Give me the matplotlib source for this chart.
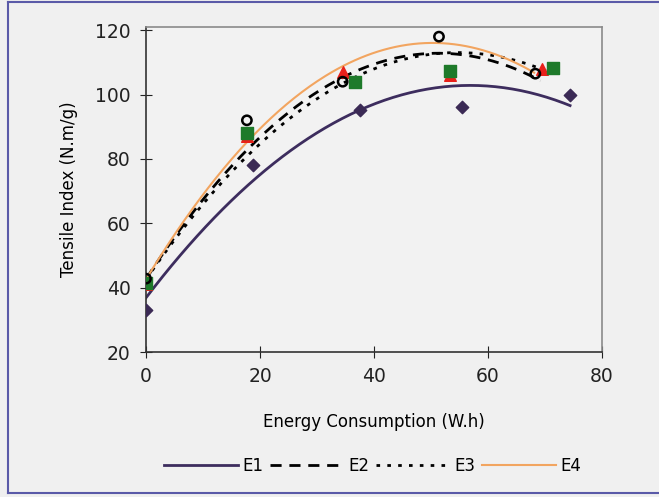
import numpy as np
import matplotlib
matplotlib.use("Agg")
import matplotlib.pyplot as plt
from matplotlib.lines import Line2D

x_e1 = [0, 18.7, 37.6, 55.5, 74.4]
y_e1 = [33.1, 78.1, 95.3, 96.2, 99.8]
x_e2 = [0, 17.7, 34.5, 51.4, 68.3]
y_e2 = [42.8, 92.0, 104.0, 118.0, 106.5]
x_e3 = [0, 17.7, 36.7, 53.4, 71.4]
y_e3 = [41.5, 88.0, 104.0, 107.2, 108.2]
x_e4 = [0, 17.7, 34.5, 53.4, 69.5]
y_e4 = [41.0, 87.0, 107.0, 106.0, 108.0]

# Trend-curve samples
tx_e1 = [0, 24.2, 30.3, 37.6, 51.2, 59.4, 68.7, 74.4]
ty_e1 = [36.9, 80.9, 88.4, 95.3, 102.5, 102.8, 99.4, 96.9]
tx_e2 = [0, 13.8, 36.8, 44.3, 51.8, 61.2, 65.7, 69.2]
ty_e2 = [43.0, 74.7, 107.5, 111.9, 113.1, 109.7, 106.6, 105.0]
tx_e3 = [0, 27.4, 31.5, 43.0, 49.5, 71.3]
ty_e3 = [42.5, 95.6, 100.3, 110.3, 111.9, 106.6]
tx_e4 = [0, 9.1, 24.2, 34.7, 46.5, 53.0, 62.9, 68.1]
ty_e4 = [43.5, 65.3, 96.5, 109.1, 115.9, 116.5, 110.3, 107.2]

labels = ["E1", "E2", "E3", "E4"]
bg = "#f0f0f0"

W, H = 659, 497
fig = plt.figure(figsize=(W/100, H/100), dpi=100, facecolor=bg)
ax = fig.add_axes([146/W, 1-352/H, (602-146)/W, (352-27)/H])
ax.set_facecolor("#f2f2f2")

def trend(xs, ys):
    c = np.polyfit(xs, ys, 2)
    xx = np.linspace(min(xs), max(xs), 200)
    return xx, np.polyval(c, xx)

xx, yy = trend(tx_e1, ty_e1)
l1, = ax.plot(xx, yy, color="#3d2d5e", lw=2, label=labels[0])
xx, yy = trend(tx_e2, ty_e2)
l2, = ax.plot(xx, yy, color="black", lw=2, ls=(0, (4, 2.8)), label=labels[1])
xx, yy = trend(tx_e3, ty_e3)
l3, = ax.plot(xx, yy, color="black", lw=2, ls=(0, (1.3, 2.6)), label=labels[2])
xx, yy = trend(tx_e4, ty_e4)
l4, = ax.plot(xx, yy, color="#f2a560", lw=1.5, label=labels[3])

ax.scatter(x_e1, y_e1, marker="D", s=40, color="#3b2a55", zorder=5)
ax.scatter(x_e4, y_e4, marker="^", s=70, color="#e8201a", zorder=5)
ax.scatter(x_e3, y_e3, marker="s", s=70, color="#1e7a2a", zorder=6)
ax.scatter(x_e2, y_e2, marker="o", s=45, facecolors="none", edgecolors="black",
           linewidths=1.8, zorder=7)

ax.set_xlim(0, 80)
ax.set_ylim(20, 121)
ax.set_xticks([0, 20, 40, 60, 80])
ax.set_yticks([20, 40, 60, 80, 100, 120])
ax.tick_params(labelsize=13.5, colors="#222222", length=5, pad=7)
ax.tick_params(axis="y", direction="inout", length=8)
ax.tick_params(axis="x", direction="inout", length=8)
for s in ["left", "bottom"]:
    ax.spines[s].set_color("#333333")
    ax.spines[s].set_linewidth(1.2)
for s in ["top", "right"]:
    ax.spines[s].set_color("#8a8a8a")
    ax.spines[s].set_linewidth(1.2)

ax.set_xlabel("Energy Consumption (W.h)", fontsize=12, labelpad=19)
ax.set_ylabel("Tensile Index (N.m/g)", fontsize=12, labelpad=12)

fig.legend(handles=[l1, l2, l3, l4], loc="center", bbox_to_anchor=(373/W, 1-466/H),
           ncol=4, frameon=False, fontsize=12, handlelength=4.4, handletextpad=0.3,
           columnspacing=0.4)

# outer border (left, top, bottom)
fig.add_artist(Line2D([8/W, 8/W], [1-2/H, 1-493/H], transform=fig.transFigure,
                      color="#5a5aa8", lw=1.5))
fig.add_artist(Line2D([8/W, 1], [1-2/H, 1-2/H], transform=fig.transFigure,
                      color="#5a5aa8", lw=1.5))
fig.add_artist(Line2D([8/W, 1], [1-493/H, 1-493/H], transform=fig.transFigure,
                      color="#5a5aa8", lw=1.5))

fig.savefig("out.png", dpi=100, facecolor=bg)
